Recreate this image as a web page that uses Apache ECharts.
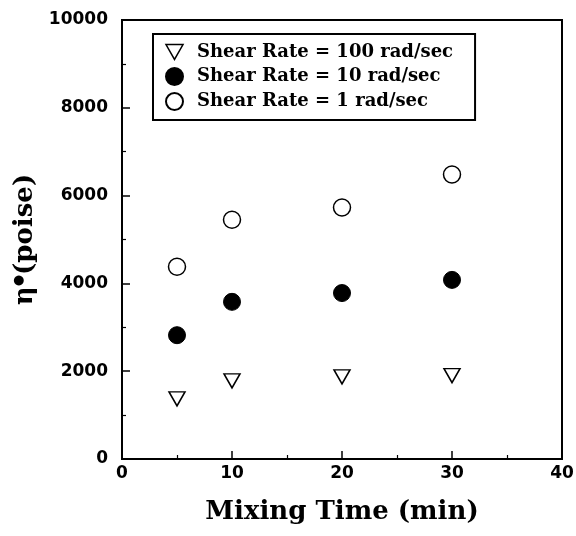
<!DOCTYPE html>
<html>
<head>
<meta charset="utf-8">
<script src="https://cdn.jsdelivr.net/npm/echarts@6/dist/echarts.min.js"></script>
<style>html,body{margin:0;padding:0;background:#fff}#c{width:576px;height:536px}</style>
</head>
<body>
<div id="c"></div>
<script>
var mixingTime = [5, 10, 20, 30];
var rate100 = [1370, 1780, 1870, 1900];
var rate10 = [2820, 3580, 3780, 4080];
var rate1 = [4380, 5450, 5730, 6480];
var seriesNames = ['Shear Rate = 100 rad/sec', 'Shear Rate = 10 rad/sec', 'Shear Rate = 1 rad/sec'];

function pairs(xs, ys) { return xs.map(function (x, i) { return [x, ys[i]]; }); }

var chart = echarts.init(document.getElementById('c'));
var slab = 'DejaVu Serif';
var downTri = 'path://M0,0 L16,0 L8,14 Z';
chart.setOption({
  animation: false,
  backgroundColor: '#fff',
  grid: { left: 122, right: 14, top: 20, bottom: 77, show: true, borderColor: '#000', borderWidth: 2, containLabel: false, outerBoundsMode: 'none' },
  legend: {
    orient: 'vertical', left: 153, top: 34,
    padding: [9, 22, 9, 12], itemGap: 6, itemWidth: 17, itemHeight: 17,
    borderColor: '#000', borderWidth: 2, backgroundColor: '#fff',
    textStyle: { fontFamily: slab, fontWeight: 'bold', fontSize: 18, color: '#000', padding: [0, 0, 0, 9] },
    data: [
      { name: seriesNames[0], icon: downTri, itemStyle: { color: '#fff', borderColor: '#000', borderWidth: 1.5 } },
      { name: seriesNames[1], icon: 'circle' },
      { name: seriesNames[2], icon: 'circle' }
    ]
  },
  xAxis: {
    type: 'value', min: 0, max: 40, interval: 10,
    name: 'Mixing Time (min)', nameLocation: 'middle', nameGap: 40,
    nameTextStyle: { fontFamily: slab, fontWeight: 'bold', fontSize: 26, color: '#000' },
    axisLine: { onZero: false, lineStyle: { color: '#000', width: 2 } },
    axisTick: { inside: true, length: 8, lineStyle: { color: '#000', width: 1.5 } },
    minorTick: { show: true, splitNumber: 2, length: 4, lineStyle: { color: '#000', width: 1.2 } },
    splitLine: { show: false },
    axisLabel: { fontFamily: 'DejaVu Sans', fontWeight: 'bold', fontSize: 17, color: '#000', margin: 6, formatter: function (v) { return String(v); } }
  },
  yAxis: {
    type: 'value', min: 0, max: 10000, interval: 2000,
    name: '{a|η}{b|●}{a|(poise)}', nameLocation: 'middle', nameGap: 75, nameRotate: 90,
    nameTextStyle: {
      rich: {
        a: { fontFamily: slab, fontWeight: 'bold', fontSize: 26, color: '#000' },
        b: { fontFamily: 'DejaVu Sans', fontSize: 13, color: '#000', verticalAlign: 'top' }
      }
    },
    axisLine: { onZero: false, lineStyle: { color: '#000', width: 2 } },
    axisTick: { inside: true, length: 8, lineStyle: { color: '#000', width: 1.5 } },
    minorTick: { show: true, splitNumber: 2, length: 4, lineStyle: { color: '#000', width: 1.2 } },
    splitLine: { show: false },
    axisLabel: { fontFamily: 'DejaVu Sans', fontWeight: 'bold', fontSize: 17, color: '#000', margin: 14, formatter: function (v) { return String(v); } }
  },
  series: [
    { name: seriesNames[0], type: 'scatter', data: pairs(mixingTime, rate100), symbol: 'triangle', symbolRotate: 180, symbolSize: [16, 14],
      itemStyle: { color: '#fff', borderColor: '#000', borderWidth: 1.5, opacity: 1 } },
    { name: seriesNames[1], type: 'scatter', data: pairs(mixingTime, rate10), symbol: 'circle', symbolSize: 17,
      itemStyle: { color: '#000', borderColor: '#000', borderWidth: 1, opacity: 1 } },
    { name: seriesNames[2], type: 'scatter', data: pairs(mixingTime, rate1), symbol: 'circle', symbolSize: 17,
      itemStyle: { color: '#fff', borderColor: '#000', borderWidth: 1.5, opacity: 1 } }
  ]
});
</script>
</body>
</html>
